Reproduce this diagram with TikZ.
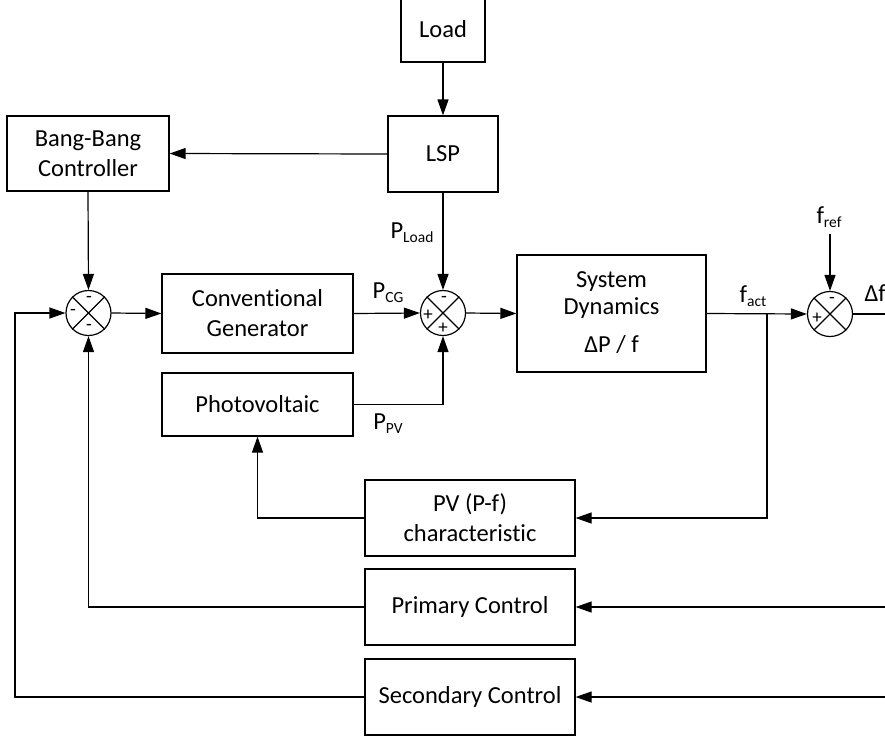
\documentclass[tikz,border=0pt]{standalone}
\usepackage{fontspec}
\setmainfont{Carlito}[Ligatures={NoCommon,NoContextual}]
\usetikzlibrary{arrows.meta}
\newcommand\lbsub[1]{\raisebox{-0.35ex}{\fontsize{15.5}{16}\selectfont #1}}
\begin{document}
\begin{tikzpicture}[x=1pt,y=-1pt,
  font=\fontsize{24.5}{30}\selectfont,
  line width=1.2pt,
  box/.style={draw, rectangle, inner sep=0pt, align=center},
  sumnode/.style={draw, circle, inner sep=0pt, minimum size=45pt},
  sgn/.style={inner sep=0pt, font=\fontsize{19}{19}\selectfont},
  lbl/.style={inner sep=0pt},
  arr/.style={-{Triangle[length=16pt,width=11pt]}}]
\useasboundingbox (0,0) rectangle (885,740);
\clip (0,0) rectangle (885,740);

% blocks
\node[box, minimum width=84pt, minimum height=65pt] (load) at (443,29.5) {Load};
\node[box, minimum width=110pt, minimum height=76pt] (lsp) at (443,154) {LSP};
\node[box, minimum width=162pt, minimum height=75pt] (bb) at (88,153.5) {Bang-Bang\\Controller};
\node[box, minimum width=191pt, minimum height=79pt] (cg) at (257.5,313.5) {Conventional\\Generator};
\node[box, minimum width=191pt, minimum height=63pt] (pv) at (257.5,404.5) {Photovoltaic};
\node[box, minimum width=189pt, minimum height=117pt] (sd) at (611.5,313.5) {};
\node[lbl, align=center, font=\fontsize{24.5}{27}\selectfont] (sdtxt) at (611.5,313) {System\\Dynamics\\[11pt]ΔP / f};
\node[box, minimum width=210pt, minimum height=76pt] (pvc) at (470,518) {PV (P-f)\\characteristic};
\node[box, minimum width=210pt, minimum height=76pt] (prim) at (470,607) {Primary Control};
\node[box, minimum width=210pt, minimum height=76pt] (sec) at (470,697) {Secondary Control};

% summing junctions
\node[sumnode] (s1) at (88.5,313) {};
\node[sumnode] (s2) at (443,313) {};
\node[sumnode] (s3) at (830,314) {};
\foreach \s in {s1,s2,s3}{
  \draw (\s.45) -- (\s.225);
  \draw (\s.135) -- (\s.315);
}
\node[sgn] (s1t) at (89,299) {-};
\node[sgn] (s1l) at (73,312) {-};
\node[sgn] (s1b) at (89,327) {-};
\node[sgn] (s2t) at (444,299) {-};
\node[sgn] (s2l) at (428,315) {+};
\node[sgn] (s2b) at (443,328) {+};
\node[sgn] (s3t) at (832,300) {-};
\node[sgn] (s3l) at (817,318) {+};

% signal labels
\node[lbl] (pcg) at (388,293) {P\lbsub{CG}};
\node[lbl] (pload) at (412,233) {P\lbsub{Load}};
\node[lbl] (ppv) at (388,424) {P\lbsub{PV}};
\node[lbl] (fact) at (753,296) {f\lbsub{act}};
\node[lbl] (fref) at (829,217) {f\lbsub{ref}};
\node[lbl, anchor=west] (df) at (864,293) {Δf};

% free ends
\coordinate (frefin) at (830,234);
\coordinate (dfout) at (890,314);
\coordinate (fdin) at (890,607);
\coordinate (fsin) at (890,697);
\coordinate (tap) at (767,314);

% connections
\draw[arr] (load) -- (lsp);
\draw[arr] (lsp.west) -- (bb.east);
\draw[arr] (bb.south) -- (s1.north);
\draw[arr] (lsp.south) -- (s2.north);
\draw[arr] (s1.east) -- (cg.west);
\draw[arr] (cg.east) -- (s2.west);
\draw[arr] (s2.east) -- (sd.west);
\draw[arr] (pv.east) -| (s2.south);
\draw[arr] (sd.east) -- (s3.west);
\draw[arr] (tap) |- (pvc.east);
\draw[arr] (pvc.west) -| (pv.south);
\draw[arr] (frefin) -- (s3.north);
\draw (s3.east) -- (dfout);
\draw[arr] (fdin) -- (prim.east);
\draw[arr] (prim.west) -| (s1.south);
\draw[arr] (fsin) -- (sec.east);
\draw[arr] (sec.west) -- (15,697) |- (s1.west);
\end{tikzpicture}
\end{document}
